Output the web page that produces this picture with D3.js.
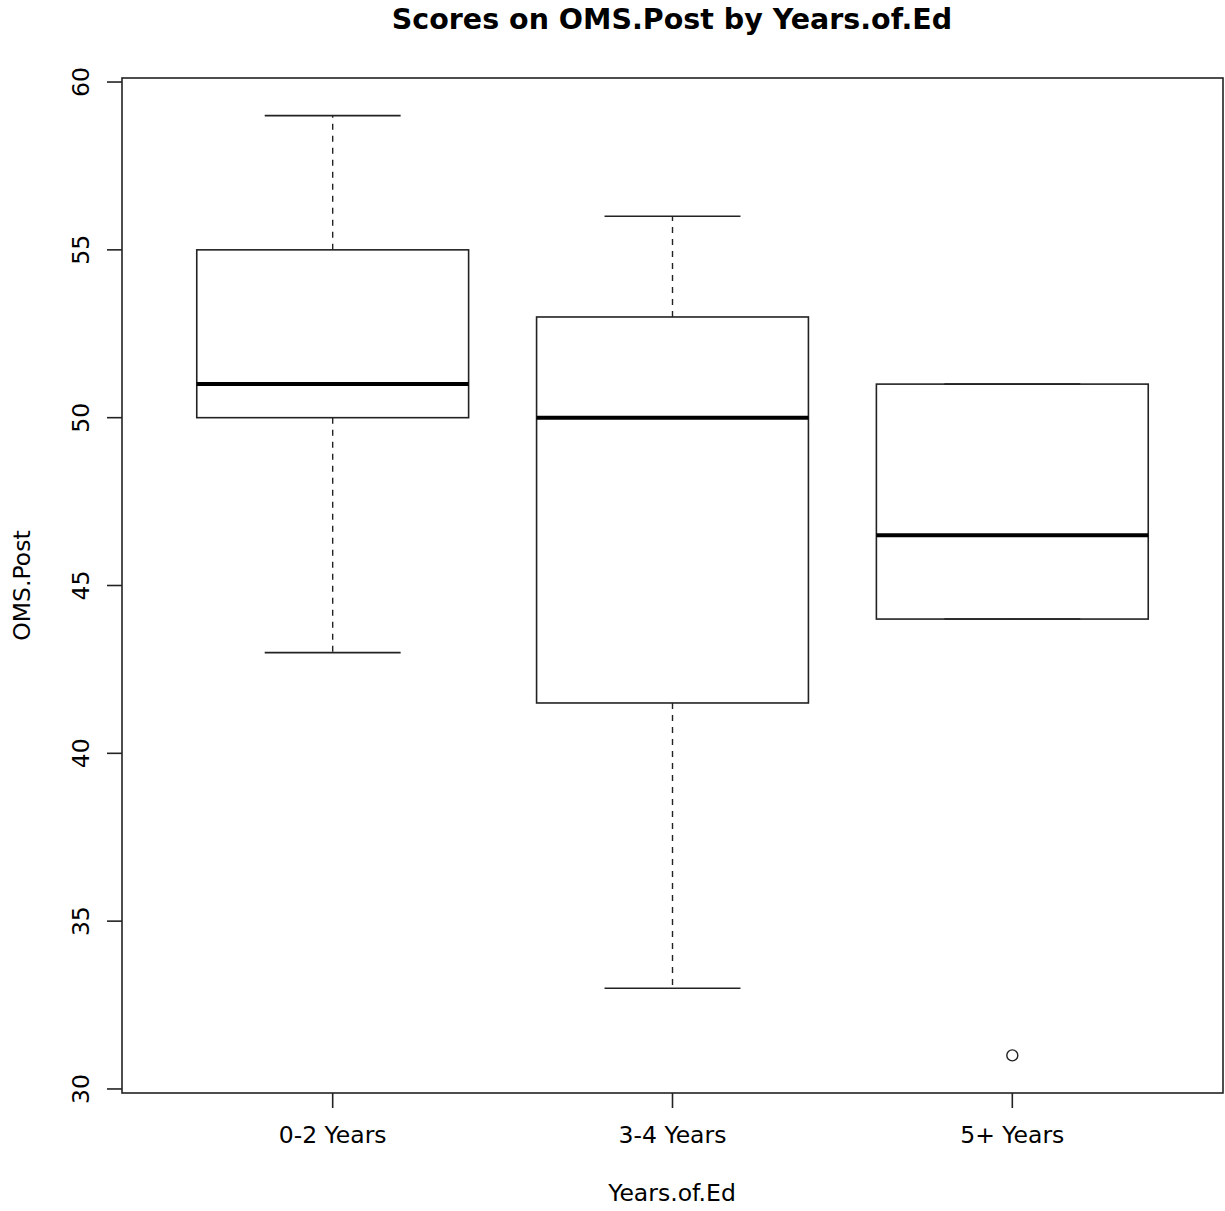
<!DOCTYPE html>
<html>
<head>
<meta charset="utf-8">
<script src="https://cdn.jsdelivr.net/npm/d3@7"></script>
<style>
  body { margin: 0; background: #fff; }
  text { font-family: "DejaVu Sans", sans-serif; fill: #000; }
</style>
</head>
<body>
<svg id="chart" width="1225" height="1211"></svg>
<script>
// five-number summaries
var groups = ["0-2 Years", "3-4 Years", "5+ Years"]
var whiskLo = [43, 33, 44]
var q1 = [50, 41.5, 44]
var medians = [51, 50, 46.5]
var q3 = [55, 53, 51]
var whiskHi = [59, 56, 51]
var outliers = [{ g: "5+ Years", v: 31 }]
var yTicks = [30, 35, 40, 45, 50, 55, 60]

var svg = d3.select("#chart")

// plot region (don't call these top/left, window.top is taken)
var pLeft = 122, pRight = 1223, pTop = 78, pBottom = 1093

// R pads the data range by 4% on each side
var x = d3.scaleLinear().domain([0.38, 3.62]).range([pLeft, pRight])
var y = d3.scaleLinear().domain([29.88, 60.12]).range([pBottom, pTop])

var boxW = 0.4, capW = 0.2
var lineCol = "#222"

var data = groups.map(function(g, i) {
    return { g: g, i: i + 1, lo: whiskLo[i], q1: q1[i], med: medians[i], q3: q3[i], hi: whiskHi[i] }
})

var g = svg.append("g")

// dashed whiskers
g.selectAll(".whisk-lo").data(data).enter().append("line")
    .attr("x1", function(d) { return x(d.i) })
    .attr("x2", function(d) { return x(d.i) })
    .attr("y1", function(d) { return y(d.q1) })
    .attr("y2", function(d) { return y(d.lo) })
    .attr("stroke", lineCol).attr("stroke-width", 1.4).attr("stroke-dasharray", "6,6")

g.selectAll(".whisk-hi").data(data).enter().append("line")
    .attr("x1", function(d) { return x(d.i) })
    .attr("x2", function(d) { return x(d.i) })
    .attr("y1", function(d) { return y(d.q3) })
    .attr("y2", function(d) { return y(d.hi) })
    .attr("stroke", lineCol).attr("stroke-width", 1.4).attr("stroke-dasharray", "6,6")

// whisker caps
g.selectAll(".cap-lo").data(data).enter().append("line")
    .attr("x1", function(d) { return x(d.i - capW) })
    .attr("x2", function(d) { return x(d.i + capW) })
    .attr("y1", function(d) { return y(d.lo) })
    .attr("y2", function(d) { return y(d.lo) })
    .attr("stroke", lineCol).attr("stroke-width", 1.6)

g.selectAll(".cap-hi").data(data).enter().append("line")
    .attr("x1", function(d) { return x(d.i - capW) })
    .attr("x2", function(d) { return x(d.i + capW) })
    .attr("y1", function(d) { return y(d.hi) })
    .attr("y2", function(d) { return y(d.hi) })
    .attr("stroke", lineCol).attr("stroke-width", 1.6)

// boxes
g.selectAll(".box").data(data).enter().append("rect")
    .attr("x", function(d) { return x(d.i - boxW) })
    .attr("width", function(d) { return x(d.i + boxW) - x(d.i - boxW) })
    .attr("y", function(d) { return y(d.q3) })
    .attr("height", function(d) { return y(d.q1) - y(d.q3) })
    .attr("fill", "none").attr("stroke", lineCol).attr("stroke-width", 1.6)

// medians
g.selectAll(".med").data(data).enter().append("line")
    .attr("x1", function(d) { return x(d.i - boxW) })
    .attr("x2", function(d) { return x(d.i + boxW) })
    .attr("y1", function(d) { return y(d.med) })
    .attr("y2", function(d) { return y(d.med) })
    .attr("stroke", "#000").attr("stroke-width", 4)

// outliers
g.selectAll(".out").data(outliers).enter().append("circle")
    .attr("cx", function(d) { return x(groups.indexOf(d.g) + 1) })
    .attr("cy", function(d) { return y(d.v) })
    .attr("r", 5.5)
    .attr("fill", "none").attr("stroke", lineCol).attr("stroke-width", 1.4)

// frame
svg.append("rect")
    .attr("x", pLeft).attr("y", pTop)
    .attr("width", pRight - pLeft).attr("height", pBottom - pTop)
    .attr("fill", "none").attr("stroke", lineCol).attr("stroke-width", 1.6)

// y axis
var yAxis = svg.append("g")
yAxis.selectAll(".ytick").data(yTicks).enter().append("line")
    .attr("x1", pLeft).attr("x2", pLeft - 15)
    .attr("y1", function(d) { return y(d) })
    .attr("y2", function(d) { return y(d) })
    .attr("stroke", lineCol).attr("stroke-width", 1.6)

yAxis.selectAll(".ylab").data(yTicks).enter().append("text")
    .attr("transform", function(d) { return "translate(89," + y(d) + ") rotate(-90)" })
    .attr("text-anchor", "middle")
    .style("font-size", "23.5px")
    .text(function(d) { return d })

// x axis
var xAxis = svg.append("g")
xAxis.selectAll(".xtick").data(data).enter().append("line")
    .attr("x1", function(d) { return x(d.i) })
    .attr("x2", function(d) { return x(d.i) })
    .attr("y1", pBottom).attr("y2", pBottom + 15)
    .attr("stroke", lineCol).attr("stroke-width", 1.6)

xAxis.selectAll(".xlab").data(data).enter().append("text")
    .attr("x", function(d) { return x(d.i) })
    .attr("y", 1143)
    .attr("text-anchor", "middle")
    .style("font-size", "23.5px")
    .text(function(d) { return d.g })

// titles
svg.append("text")
    .attr("x", 672).attr("y", 29)
    .attr("text-anchor", "middle")
    .style("font-size", "28.5px").style("font-weight", "bold")
    .text("Scores on OMS.Post by Years.of.Ed")

svg.append("text")
    .attr("x", 672).attr("y", 1201)
    .attr("text-anchor", "middle")
    .style("font-size", "23.5px")
    .text("Years.of.Ed")

svg.append("text")
    .attr("transform", "translate(30," + ((pTop + pBottom) / 2) + ") rotate(-90)")
    .attr("text-anchor", "middle")
    .style("font-size", "23.5px")
    .text("OMS.Post")
</script>
</body>
</html>
